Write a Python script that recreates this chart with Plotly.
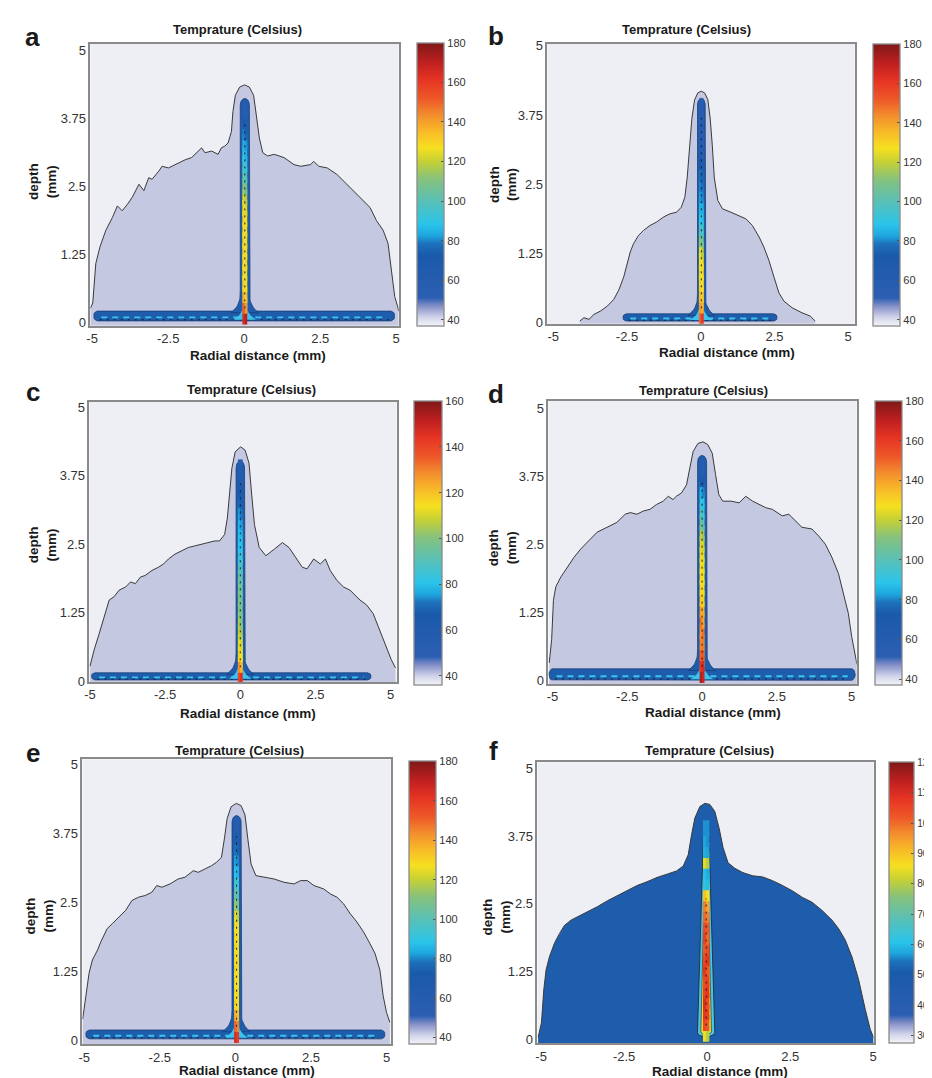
import numpy as np
import plotly.graph_objects as go

W, H = 932, 1078
FONT = "Liberation Sans, Arial, sans-serif"

# ------------------------------------------------------------------ text
title_text = "Temprature (Celsius)"
x_label = "Radial distance (mm)"
y_label = "depth<br>(mm)"
panel_letters = ["a", "b", "c", "d", "e", "f"]
x_tick_vals = [-5, -2.5, 0, 2.5, 5]
x_tick_text = ["-5", "-2.5", "0", "2.5", "5"]
y_tick_vals = [0, 1.25, 2.5, 3.75, 5]
y_tick_text = ["0", "1.25", "2.5", "3.75", "5"]

# ------------------------------------------------------------------ colour ranges (Celsius)
cbar_min = [37, 37, 36, 37, 36.5, 27.4]
cbar_max = [180, 180, 160, 180, 180, 120]
cbar_ticks_a = [40, 60, 80, 100, 120, 140, 160, 180]
cbar_ticks_c = [40, 60, 80, 100, 120, 140, 160]
cbar_ticks_f = [30, 40, 50, 60, 70, 80, 90, 100, 110, 120]

# ------------------------------------------------------------------ outer isotherm envelopes (radial mm, depth mm)
env_a_x = [-5.06, -4.98, -4.88, -4.74, -4.55, -4.44, -4.33, -4.17, -4.01, -3.84, -3.68, -3.46, -3.30, -3.14, -3.03,
           -2.81, -2.70, -2.49, -2.16, -1.94, -1.73, -1.51, -1.40, -1.29, -1.07, -0.86, -0.75, -0.64, -0.53, -0.42,
           -0.37, -0.29, -0.15, 0.01, 0.17, 0.31, 0.39, 0.50, 0.61, 0.77, 0.99, 1.31, 1.64, 1.86, 2.18, 2.29, 2.45,
           2.73, 3.05, 3.27, 3.59, 3.92, 4.14, 4.35, 4.57, 4.73, 4.84, 4.95, 5.06, 5.08]
env_a_y = [0.25, 0.35, 1.08, 1.39, 1.69, 1.81, 1.93, 2.14, 2.05, 2.17, 2.30, 2.54, 2.42, 2.66, 2.63, 2.78, 2.87, 2.84,
           2.93, 2.99, 3.03, 3.15, 3.21, 3.12, 3.15, 3.09, 3.21, 3.24, 3.30, 3.51, 3.88, 4.18, 4.33, 4.37, 4.33, 4.18,
           3.88, 3.39, 3.12, 3.06, 3.09, 3.03, 2.90, 2.87, 2.90, 2.96, 2.87, 2.84, 2.72, 2.60, 2.42, 2.24, 2.11, 1.87,
           1.69, 1.45, 0.96, 0.47, 0.26, 0.20]

env_b_x = [-4.10, -3.96, -3.79, -3.62, -3.40, -3.17, -2.95, -2.78, -2.61, -2.50, -2.39, -2.28, -2.11, -1.94, -1.72,
           -1.50, -1.27, -1.05, -0.82, -0.66, -0.54, -0.46, -0.37, -0.30, -0.21, -0.10, 0.02, 0.13, 0.24, 0.32, 0.39,
           0.46, 0.58, 0.74, 1.02, 1.30, 1.53, 1.75, 1.98, 2.14, 2.31, 2.48, 2.65, 2.82, 3.10, 3.43, 3.71, 3.88]
env_b_y = [0.02, 0.08, 0.05, 0.14, 0.20, 0.29, 0.41, 0.58, 0.82, 1.06, 1.27, 1.42, 1.57, 1.66, 1.75, 1.81, 1.90, 1.96,
           1.99, 2.08, 2.26, 2.61, 3.21, 3.69, 4.02, 4.15, 4.18, 4.15, 4.03, 3.69, 3.21, 2.61, 2.20, 2.05, 1.99, 1.93,
           1.87, 1.75, 1.54, 1.36, 1.12, 0.82, 0.53, 0.38, 0.26, 0.17, 0.11, 0.02]

env_c_x = [-5.00, -4.86, -4.69, -4.53, -4.36, -4.20, -4.03, -3.81, -3.65, -3.49, -3.32, -3.16, -2.94, -2.72, -2.55,
           -2.39, -2.17, -1.95, -1.73, -1.51, -1.29, -1.07, -0.85, -0.69, -0.52, -0.43, -0.36, -0.28, -0.17, 0.01,
           0.16, 0.29, 0.38, 0.47, 0.63, 0.85, 1.13, 1.40, 1.62, 1.84, 2.06, 2.22, 2.44, 2.66, 2.83, 2.99, 3.21, 3.43,
           3.65, 3.98, 4.20, 4.42, 4.64, 4.86, 5.02, 5.16]
env_c_y = [0.27, 0.57, 0.87, 1.17, 1.48, 1.54, 1.66, 1.72, 1.81, 1.78, 1.90, 1.93, 2.02, 2.08, 2.14, 2.23, 2.32, 2.38,
           2.44, 2.47, 2.50, 2.53, 2.56, 2.56, 2.68, 2.98, 3.40, 3.89, 4.19, 4.28, 4.22, 3.98, 3.40, 2.86, 2.44, 2.29,
           2.41, 2.53, 2.44, 2.26, 2.08, 2.05, 2.23, 2.14, 2.23, 2.02, 1.84, 1.72, 1.66, 1.48, 1.39, 1.23, 0.93, 0.63,
           0.39, 0.24]

env_d_x = [-5.11, -5.03, -4.97, -4.89, -4.72, -4.50, -4.28, -4.06, -3.78, -3.51, -3.18, -2.85, -2.57, -2.40, -2.18,
           -1.96, -1.74, -1.52, -1.30, -1.13, -0.97, -0.86, -0.69, -0.52, -0.41, -0.30, -0.14, 0.03, 0.19, 0.34, 0.45,
           0.56, 0.69, 0.97, 1.24, 1.46, 1.69, 1.91, 2.13, 2.35, 2.68, 2.90, 3.12, 3.34, 3.67, 3.90, 4.12, 4.34, 4.56,
           4.72, 4.89, 5.00, 5.11, 5.18]
env_d_y = [0.32, 0.75, 1.47, 1.72, 1.90, 2.08, 2.26, 2.41, 2.56, 2.72, 2.81, 2.90, 3.05, 3.08, 3.05, 3.11, 3.14, 3.23,
           3.29, 3.38, 3.32, 3.38, 3.44, 3.59, 3.90, 4.20, 4.35, 4.38, 4.33, 4.17, 3.78, 3.41, 3.29, 3.29, 3.26, 3.38,
           3.29, 3.23, 3.17, 3.14, 3.02, 3.05, 2.93, 2.81, 2.78, 2.65, 2.50, 2.26, 1.96, 1.59, 1.23, 0.81, 0.44, 0.29]

env_e_x = [-5.05, -4.95, -4.84, -4.73, -4.56, -4.45, -4.24, -4.07, -3.85, -3.63, -3.42, -3.20, -2.98, -2.76, -2.60,
           -2.43, -2.16, -1.89, -1.67, -1.39, -1.23, -1.01, -0.79, -0.63, -0.46, -0.36, -0.27, -0.14, 0.03, 0.19, 0.32,
           0.41, 0.52, 0.68, 0.96, 1.28, 1.61, 1.94, 2.16, 2.38, 2.60, 2.92, 3.14, 3.36, 3.58, 3.80, 4.02, 4.24, 4.45,
           4.62, 4.78, 4.89, 5.00, 5.11]
env_e_y = [0.39, 0.75, 1.22, 1.46, 1.64, 1.79, 2.03, 2.12, 2.24, 2.36, 2.54, 2.60, 2.63, 2.69, 2.81, 2.78, 2.84, 2.93,
           2.96, 3.08, 3.05, 3.11, 3.17, 3.23, 3.32, 3.67, 4.03, 4.24, 4.30, 4.26, 4.09, 3.67, 3.20, 2.99, 2.96, 2.93,
           2.87, 2.84, 2.90, 2.90, 2.81, 2.75, 2.66, 2.60, 2.48, 2.30, 2.15, 1.97, 1.76, 1.58, 1.28, 0.81, 0.51, 0.33]

env_f_x = [-5.09, -4.99, -4.92, -4.85, -4.75, -4.60, -4.45, -4.30, -4.10, -3.90, -3.60, -3.30, -3.00, -2.71, -2.41,
           -2.11, -1.81, -1.51, -1.21, -0.92, -0.72, -0.57, -0.47, -0.37, -0.22, -0.07, 0.08, 0.23, 0.36, 0.48, 0.63,
           0.83, 1.07, 1.37, 1.67, 1.97, 2.27, 2.57, 2.87, 3.16, 3.46, 3.76, 3.96, 4.16, 4.36, 4.56, 4.76, 4.91, 5.01]
env_f_y = [0.03, 0.30, 0.91, 1.28, 1.52, 1.77, 1.95, 2.10, 2.20, 2.26, 2.35, 2.45, 2.56, 2.65, 2.74, 2.84, 2.91, 2.99,
           3.05, 3.11, 3.20, 3.41, 3.78, 4.09, 4.30, 4.36, 4.34, 4.21, 3.90, 3.54, 3.26, 3.16, 3.08, 3.02, 3.00, 2.93,
           2.84, 2.74, 2.62, 2.53, 2.38, 2.20, 2.04, 1.83, 1.52, 1.10, 0.55, 0.18, 0.03]

# ------------------------------------------------------------------ hot surface layer and needle track (panels a-e)
band_left = [-4.95, -2.64, -4.95, -5.12, -4.95]
band_right = [4.95, 2.59, 4.35, 5.12, 4.95]
band_top = [0.20, 0.15, 0.15, 0.21, 0.19]
band_bottom = [0.02, 0.02, 0.02, 0.00, 0.03]
needle_center = [0.02, 0.02, 0.00, 0.00, 0.04]
needle_top = [4.12, 4.05, 4.02, 4.13, 4.08]
needle_halfwidth = [0.15, 0.13, 0.14, 0.15, 0.15]

# temperatures along the needle core (two adjacent columns), depth mm
strip_depth = [0.1, 0.3, 0.5, 0.7, 0.9, 1.1, 1.3, 1.5, 1.7, 1.9, 2.1, 2.3, 2.5, 2.7, 2.9, 3.1, 3.3, 3.5, 3.7, 3.9]
temp_a_l = [165, 150, 138, 130, 128, 127, 129, 126, 128, 129, 126, 124, 112, 104, 96, 90, 85, 80, 70, 58]
temp_a_r = [170, 142, 132, 128, 126, 129, 127, 128, 126, 127, 124, 118, 106, 98, 92, 85, 82, 75, 65, 55]
temp_b_l = [150, 140, 134, 130, 128, 127, 126, 112, 100, 90, 85, 82, 80, 78, 70, 60, 58, 56, 55, 55]
temp_b_r = [160, 138, 132, 128, 127, 126, 118, 106, 95, 88, 84, 80, 78, 75, 65, 58, 56, 55, 55, 55]
temp_c_l = [140, 128, 116, 112, 108, 105, 100, 100, 98, 95, 90, 85, 82, 80, 78, 75, 70, 65, 60, 55]
temp_c_r = [145, 122, 114, 110, 105, 100, 98, 96, 95, 92, 88, 84, 80, 78, 75, 72, 68, 62, 58, 55]
temp_d_l = [172, 160, 150, 145, 142, 148, 140, 132, 129, 128, 127, 126, 124, 120, 106, 100, 92, 85, 72, 60]
temp_d_r = [168, 165, 152, 146, 148, 140, 138, 130, 128, 127, 126, 125, 122, 115, 102, 95, 88, 80, 68, 58]
temp_e_l = [165, 150, 138, 130, 127, 128, 129, 127, 128, 126, 127, 125, 114, 104, 95, 88, 82, 78, 68, 58]
temp_e_r = [160, 145, 134, 128, 129, 127, 128, 129, 126, 128, 126, 120, 108, 100, 92, 85, 80, 75, 65, 56]
temp_f_l = [85, 105, 108, 110, 106, 104, 108, 105, 102, 106, 104, 100, 98, 90, 62, 60, 84, 58, 57, 56]
temp_f_r = [80, 102, 106, 104, 108, 106, 102, 108, 104, 100, 102, 98, 94, 86, 60, 58, 80, 57, 56, 56]

# panel f needle zones (depth mm, half width mm)
f_needle_center = -0.03
f_needle_depth = [0.04, 4.00]
f_needle_halfwidth = [0.26, 0.07]
f_core_depth = [0.08, 2.95]
f_core_halfwidth = [0.16, 0.05]

envs = [(env_a_x, env_a_y), (env_b_x, env_b_y), (env_c_x, env_c_y),
        (env_d_x, env_d_y), (env_e_x, env_e_y), (env_f_x, env_f_y)]
strips = [(temp_a_l, temp_a_r), (temp_b_l, temp_b_r), (temp_c_l, temp_c_r),
          (temp_d_l, temp_d_r), (temp_e_l, temp_e_r), (temp_f_l, temp_f_r)]
for ex, ey in envs:
    assert len(ex) == len(ey)
for l, r in strips:
    assert len(l) == len(r) == len(strip_depth)

# ------------------------------------------------------------------ layout geometry (pixels)
plot_box = [(78, 31, 389, 316), (539, 31, 849, 314), (77, 393, 387, 676),
            (540, 392, 851, 678), (70, 754, 381, 1042), (529, 757, 868, 1041)]
cbar_box = [(407, 30, 434, 316), (867, 31, 894, 316), (404, 392, 432, 679),
            (869, 392, 896, 679), (399, 756, 426, 1042), (884, 757, 909, 1041)]
x_ranges = [[-5.06, 5.08], [-5.2, 5.22], [-5.02, 5.2], [-5.14, 5.17], [-5.06, 5.14], [-5.11, 5.01]]
y_ranges = [[-0.07, 5.13], [-0.03, 5.04], [-0.02, 5.1], [-0.07, 5.13], [-0.07, 5.1], [-0.08, 5.12]]
letter_pos = [(20, 24), (487, 23), (20, 383), (487, 385), (20, 748), (485, 746)]
title_pos = [(226, 17), (679, 17), (241, 380), (696, 381), (228, 745), (703, 745)]
xlab_pos = [(247, 346), (720, 343), (237, 708), (706, 707), (236, 1068), (713, 1069)]
ylab_pos = [(30, 170), (494, 173), (30, 537), (494, 540), (27, 912), (488, 913)]
cbar_font = [11, 11, 11, 11, 11, 10]

CS = [[0.00, "#f4f4f8"], [0.03, "#d2d5ea"], [0.07, "#8590c8"], [0.10, "#2c5eb2"], [0.25, "#1a5aaa"],
      [0.29, "#1d70bc"], [0.32, "#1ea6de"], [0.36, "#2ac4ea"], [0.45, "#5ec0b0"], [0.52, "#86c27c"],
      [0.58, "#c4d036"], [0.63, "#f6e020"], [0.69, "#f8b828"], [0.75, "#f28a2e"], [0.80, "#ee5a28"],
      [0.87, "#e63424"], [0.93, "#c02020"], [1.00, "#801818"]]

ENV_FILL = "#c4c8e0"
BG = "#eeeff5"
BLUE = "#1e5dac"
CYAN = "#3cc4ec"
EDGE = "#1a3f78"


def band_shape(left, right, top, bottom, n=8):
    r = (top - bottom) / 2
    mid = (top + bottom) / 2
    rx = 0.12
    xs, ys = [], []
    for k in range(n + 1):
        a = np.pi / 2 - np.pi * k / n
        xs.append(right - rx + rx * np.cos(a))
        ys.append(mid + r * np.sin(a))
    for k in range(n + 1):
        a = -np.pi / 2 - np.pi * k / n
        xs.append(left + rx + rx * np.cos(a))
        ys.append(mid + r * np.sin(a))
    xs.append(xs[0])
    ys.append(ys[0])
    return xs, ys


def needle_shape(c, hw, top, base, flare_w, flare_h, cap_h, n=12):
    lx, ly = [], []
    for i in range(n + 1):
        t = i / n
        ly.append(base + flare_h * t)
        lx.append(c - hw - (flare_w - hw) * (1 - t) ** 3)
    cx, cy = [], []
    for k in range(n + 1):
        a = np.pi - np.pi * k / n
        cx.append(c + hw * np.cos(a))
        cy.append(top - cap_h + cap_h * np.sin(a))
    rx = [2 * c - x for x in reversed(lx)]
    ry = list(reversed(ly))
    xs = lx + cx + rx + [lx[0]]
    ys = ly + cy + ry + [ly[0]]
    return xs, ys


def taper_shape(c, depths, halfw, cap_h, n=8):
    d0, d1 = depths
    w0, w1 = halfw
    xs, ys = [], []
    for k in range(n + 1):
        a = np.pi + np.pi * k / n
        xs.append(c + w0 * np.cos(a))
        ys.append(d0 + cap_h + cap_h * np.sin(a))
    xs.append(c + w1)
    ys.append(d1)
    xs.append(c - w1)
    ys.append(d1)
    xs.append(xs[0])
    ys.append(ys[0])
    return xs, ys


fig = go.Figure()
annotations = []

for i in range(6):
    ax = "" if i == 0 else str(i + 1)
    xref, yref = "x" + ax, "y" + ax
    ex, ey = envs[i]
    floor = y_ranges[i][0]
    is_f = i == 5

    # envelope fill
    fig.add_trace(go.Scatter(x=[ex[0]] + ex + [ex[-1]], y=[floor] + ey + [floor], mode="lines",
                             fill="toself", fillcolor=BLUE if is_f else ENV_FILL,
                             line=dict(width=0), hoverinfo="skip", xaxis=xref, yaxis=yref, showlegend=False))
    fig.add_trace(go.Scatter(x=ex, y=ey, mode="lines", line=dict(color="#3a3a3a", width=1),
                             hoverinfo="skip", xaxis=xref, yaxis=yref, showlegend=False))

    if not is_f:
        c = needle_center[i]
        bx, by = band_shape(band_left[i], band_right[i], band_top[i], band_bottom[i])
        fig.add_trace(go.Scatter(x=bx, y=by, mode="lines", fill="toself", fillcolor=BLUE,
                                 line=dict(color=EDGE, width=0.8), hoverinfo="skip",
                                 xaxis=xref, yaxis=yref, showlegend=False))
        nx, ny = needle_shape(c, needle_halfwidth[i], needle_top[i], band_top[i] - 0.03, 0.45, 0.4, 0.12)
        fig.add_trace(go.Scatter(x=nx, y=ny, mode="lines", fill="toself", fillcolor=BLUE,
                                 line=dict(color=EDGE, width=0.8), hoverinfo="skip",
                                 xaxis=xref, yaxis=yref, showlegend=False))
        # cyan streaks in the surface layer
        hmid = band_bottom[i] + 0.35 * (band_top[i] - band_bottom[i])
        fig.add_trace(go.Scatter(x=[band_left[i] + 0.25, band_right[i] - 0.25], y=[hmid, hmid], mode="lines",
                                 line=dict(color=CYAN, width=1.8, dash="6px,5px"), hoverinfo="skip",
                                 xaxis=xref, yaxis=yref, showlegend=False))
        hlow = band_bottom[i] + 0.12 * (band_top[i] - band_bottom[i])
        fig.add_trace(go.Scatter(x=[band_left[i] + 0.2, band_right[i] - 0.2], y=[hlow, hlow], mode="lines",
                                 line=dict(color="#111111", width=0.8, dash="2px,5px"), hoverinfo="skip",
                                 xaxis=xref, yaxis=yref, showlegend=False))
        # cyan foot of the needle
        cx_, cy_ = needle_shape(c, 0.07, 0.9, band_bottom[i] + 0.02, 0.38, 0.3, 0.05)
        fig.add_trace(go.Scatter(x=cx_, y=cy_, mode="lines", fill="toself", fillcolor=CYAN,
                                 line=dict(width=0), hoverinfo="skip",
                                 xaxis=xref, yaxis=yref, showlegend=False))
        off, lw = 0.035, 2.8
    else:
        c = f_needle_center
        tx, ty = taper_shape(c, f_needle_depth, f_needle_halfwidth, 0.08)
        fig.add_trace(go.Scatter(x=tx, y=ty, mode="lines", fill="toself", fillcolor="#48c6e6",
                                 line=dict(color="#222222", width=0.8), hoverinfo="skip",
                                 xaxis=xref, yaxis=yref, showlegend=False))
        kx, ky = taper_shape(c, f_core_depth, f_core_halfwidth, 0.06)
        fig.add_trace(go.Scatter(x=kx, y=ky, mode="lines", fill="toself", fillcolor="#e6de2e",
                                 line=dict(color="#333333", width=0.7), hoverinfo="skip",
                                 xaxis=xref, yaxis=yref, showlegend=False))
        off, lw = 0.045, 3.4

    # temperature strip along needle -> provides the colour bar
    tl, tr = strips[i]
    temps = list(tl) + list(tr)
    xs = [c - off] * len(strip_depth) + [c + off] * len(strip_depth)
    ys = list(strip_depth) + list(strip_depth)
    x0, y0, x1, y1 = cbar_box[i]
    ticks = cbar_ticks_f if is_f else (cbar_ticks_c if i == 2 else cbar_ticks_a)
    fig.add_trace(go.Scatter(
        x=xs, y=ys, mode="markers", hoverinfo="skip", showlegend=False, xaxis=xref, yaxis=yref,
        marker=dict(symbol="line-ns", size=11.5, color=temps, colorscale=CS,
                    cmin=cbar_min[i], cmax=cbar_max[i], showscale=True,
                    line=dict(width=lw, color=temps, colorscale=CS, cmin=cbar_min[i], cmax=cbar_max[i]),
                    colorbar=dict(x=x0 / W, xanchor="left", y=1 - y1 / H, yanchor="bottom",
                                  len=(y1 - y0) / H, lenmode="fraction", thickness=x1 - x0,
                                  thicknessmode="pixels", xpad=0, ypad=0, outlinecolor="#8a8a8a",
                                  outlinewidth=1.3, tickvals=ticks, ticks="inside", ticklen=3,
                                  tickcolor="#555555",
                                  tickfont=dict(family=FONT, size=cbar_font[i], color="#333333")))))
    # black contour dashes in the needle core
    top_dash = 3.7 if not is_f else 2.6
    fig.add_trace(go.Scatter(x=[c, c], y=[0.25, top_dash], mode="lines",
                             line=dict(color="#111111", width=0.9, dash="2px,5px"), hoverinfo="skip",
                             xaxis=xref, yaxis=yref, showlegend=False))

    px0, py0, px1, py1 = plot_box[i]
    axis_common = dict(showgrid=False, zeroline=False, showline=True, mirror=True, linecolor="#8a8a8a",
                       linewidth=1.5, ticks="",
                       tickfont=dict(family=FONT, size=13, color="#333333"), fixedrange=True)
    fig.update_layout(**{
        "xaxis" + ax: dict(domain=[px0 / W, px1 / W], range=x_ranges[i], anchor=yref,
                           tickvals=x_tick_vals, ticktext=x_tick_text, **axis_common),
        "yaxis" + ax: dict(domain=[1 - py1 / H, 1 - py0 / H], range=y_ranges[i], anchor=xref,
                           tickvals=y_tick_vals, ticktext=y_tick_text, **axis_common),
    })

    def ann(text, pos, size, angle=0, bold=True):
        annotations.append(dict(text=("<b>%s</b>" % text) if bold else text, x=pos[0] / W, y=1 - pos[1] / H,
                                xref="paper", yref="paper", xanchor="center", yanchor="middle",
                                showarrow=False, textangle=angle,
                                font=dict(family=FONT, size=size, color="#1a1a1a")))

    ann(panel_letters[i], letter_pos[i], 26)
    ann(title_text, title_pos[i], 13)
    ann(x_label, xlab_pos[i], 13.5)
    ann(y_label, ylab_pos[i], 13.5, angle=-90)

fig.update_layout(width=W, height=H, autosize=False, margin=dict(l=0, r=0, t=0, b=0),
                  paper_bgcolor="white", plot_bgcolor=BG, annotations=annotations, showlegend=False)
fig.write_html("out.html")
